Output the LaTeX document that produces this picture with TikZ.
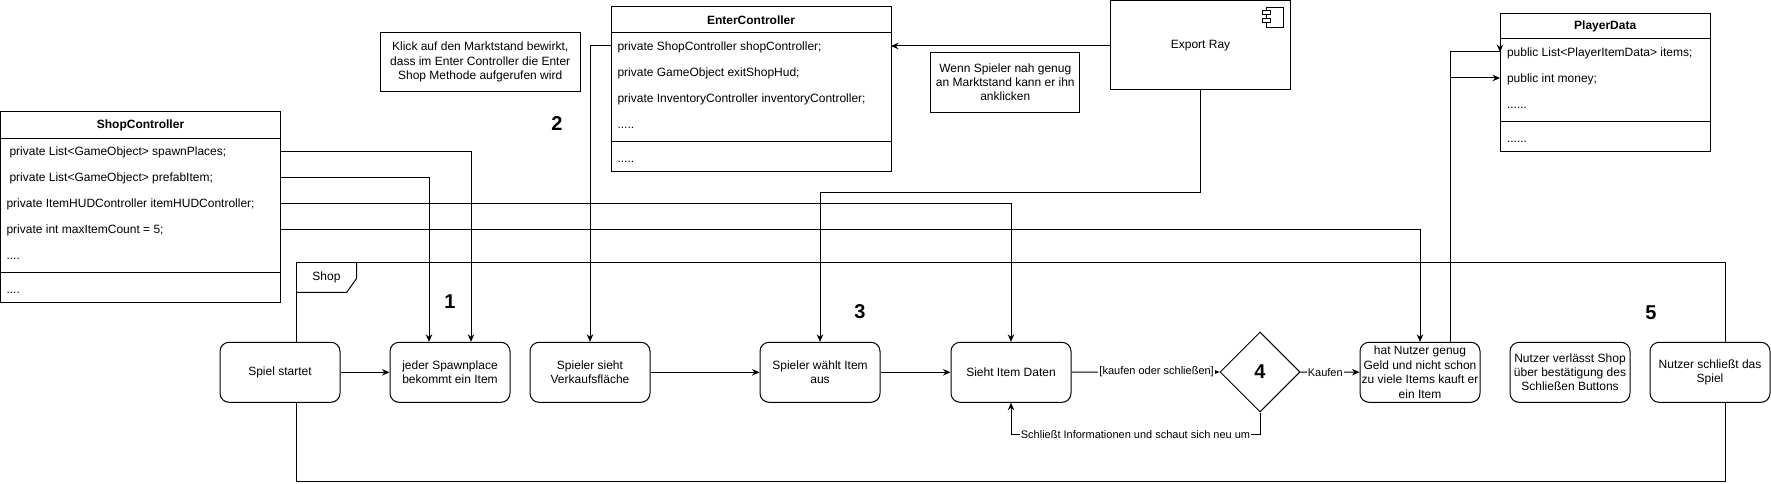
\documentclass[tikz,border=0pt]{standalone}
\usepackage{fontspec}
\setmainfont{Liberation Sans}
\usetikzlibrary{arrows.meta,shapes.geometric,calc}
\tikzset{
  f12/.style={font=\fontsize{12}{14.4}\selectfont},
  act/.style={draw, fill=white, rounded corners=9pt, minimum width=120pt, minimum height=60pt, align=center, inner sep=1pt, f12},
  cls/.style={draw, fill=white, anchor=north west, inner sep=0pt, outer sep=0pt},
  ctitle/.style={font=\fontsize{12}{14.4}\selectfont\bfseries, inner sep=0pt},
  attr/.style={anchor=west, inner sep=0pt, text height=8.6pt, text depth=0pt, f12},
  note/.style={draw, fill=white, align=center, inner sep=2pt, f12},
  num/.style={font=\fontsize{20}{24}\selectfont\bfseries, inner sep=0pt},
  lbl/.style={fill=white, inner sep=1pt, font=\fontsize{11}{13.2}\selectfont},
  arr/.style={-{Stealth[length=7.5pt,width=6.5pt,inset=2.5pt]}},
}
\begin{document}
\begin{tikzpicture}[x=1pt,y=-1pt,line width=1pt]
\useasboundingbox (0,0) rectangle (1771,484);

% Shop frame
\node[draw, anchor=north west, minimum width=1428.8pt, minimum height=219pt, inner sep=0pt, outer sep=0pt] (frame) at (296.7,262.7) {};
\draw (356.7,262.7) -- (356.7,278.3) -- (346.7,292.3) -- (296.7,292.3);
\node[f12, inner sep=0pt] (shoplbl) at (326.5,277.5) {Shop};

% activities
\node[act] (spiel) at (280,372.3) {Spiel startet};
\node[act] (jeder) at (450,372.3) {jeder Spawnplace\\bekommt ein Item};
\node[act] (sieht) at (590,372.3) {Spieler sieht\\Verkaufsfläche};
\node[act] (waehlt) at (820,372.3) {Spieler wählt Item\\aus};
\node[act] (daten) at (1011,372.3) {Sieht Item Daten};
\node[draw, diamond, fill=white, minimum width=80pt, minimum height=80pt, inner sep=0pt, num] (dia) at (1260,372) {4};
\node[act] (hat) at (1420,372.3) {hat Nutzer genug\\Geld und nicht schon\\zu viele Items kauft er\\ein Item};
\node[act] (verl) at (1570,372.3) {Nutzer verlässt Shop\\über bestätigung des\\Schließen Buttons};
\node[act] (schl) at (1710,372.3) {Nutzer schließt das\\Spiel};

% numbers
\node[num] (n1) at (450,302) {1};
\node[num] (n2) at (557,124) {2};
\node[num] (n3) at (860,311.7) {3};
\node[num] (n5) at (1651,313) {5};

% ShopController
\node[cls, minimum width=280pt, minimum height=190pt] (sc) at (0.5,112) {};
\node[ctitle] (sct) at (140.5,125) {ShopController};
\draw (0.5,138) -- (280.5,138);
\node[attr] (scr1) at (9,151) {private List<GameObject> spawnPlaces;};
\node[attr] (scr2) at (9,177) {private List<GameObject> prefabItem;};
\node[attr] (scr3) at (6,203) {private ItemHUDController itemHUDController;};
\node[attr] (scr4) at (6,229) {private int maxItemCount = 5;};
\node[attr] (scr5) at (6,255) {....};
\draw (0.5,272) -- (280.5,272);
\node[attr] (scr6) at (6,289) {....};

% EnterController
\node[cls, minimum width=280pt, minimum height=164pt] (ec) at (611,7) {};
\node[ctitle] (ect) at (751,20) {EnterController};
\draw (611,33) -- (891,33);
\node[attr] (ecr1) at (617,46) {private ShopController shopController;};
\node[attr] (ecr2) at (617,72) {private GameObject exitShopHud;};
\node[attr] (ecr3) at (617,98) {private InventoryController inventoryController;};
\node[attr] (ecr4) at (617,124) {.....};
\draw (611,141) -- (891,141);
\node[attr] (ecr5) at (617,158) {.....};

% PlayerData
\node[cls, minimum width=210.5pt, minimum height=137.5pt] (pd) at (1500,13.5) {};
\node[ctitle] (pdt) at (1605.2,26) {PlayerData};
\draw (1500,39) -- (1710.5,39);
\node[attr] (pdr1) at (1506.5,52) {public List<PlayerItemData> items;};
\node[attr] (pdr2) at (1506.5,78) {public int money;};
\node[attr] (pdr3) at (1506.5,104) {......};
\draw (1500,121.5) -- (1710.5,121.5);
\node[attr] (pdr4) at (1506.5,138) {......};

% Export Ray component
\node[draw, fill=white, minimum width=180pt, minimum height=89.5pt, anchor=north west, outer sep=0pt, f12] (er) at (1110.5,0.5) {Export Ray};
\draw (1266.5,7.5) rectangle (1283.5,27.5);
\draw[fill=white] (1262.7,10.5) rectangle (1270.5,15);
\draw[fill=white] (1262.7,18.5) rectangle (1270.5,23);

% notes
\node[note, minimum width=199.7pt, minimum height=59.4pt] (note1) at (480.2,62) {Klick auf den Marktstand bewirkt,\\dass im Enter Controller die Enter\\Shop Methode aufgerufen wird};
\node[note, minimum width=149.3pt, minimum height=60pt] (note2) at (1005.3,82.3) {Wenn Spieler nah genug\\an Marktstand kann er ihn\\anklicken};

% connectors
\draw[arr] (er.west |- ecr1) -- (ec.east |- ecr1);
\draw[arr] (ec.west |- ecr1) -| (sieht.north);
\draw[arr] (er.south) -- ++(0,102.3) -| (waehlt.north);
\draw[arr] (sc.east |- scr1) -| ([xshift=21pt]jeder.north);
\draw[arr] (sc.east |- scr2) -| ([xshift=-21pt]jeder.north);
\draw[arr] (sc.east |- scr3) -| (daten.north);
\draw[arr] (sc.east |- scr4) -| (hat.north);
\draw ([xshift=30pt]hat.north) |- (pd.west |- pdr1);
\draw[arr] ($(pd.west |- pdr1)+(0,-7)$) -- (pd.west |- pdr1);
\draw[arr] ([xshift=30pt]hat.north) |- (pd.west |- pdr2);

\draw[arr] (spiel) -- (jeder);
\draw[arr] (sieht) -- (waehlt);
\draw[arr] (waehlt) -- (daten);
\draw[arr] (daten) -- node[lbl, pos=0.575] {[kaufen oder schließen]} (dia);
\draw[arr] (dia) -- node[lbl, pos=0.42] {Kaufen} (hat);
\draw[arr] (dia.south) -- ++(0,22) -| node[lbl, pos=0.25] {Schließt Informationen und schaut sich neu um} (daten.south);
\end{tikzpicture}
\end{document}
